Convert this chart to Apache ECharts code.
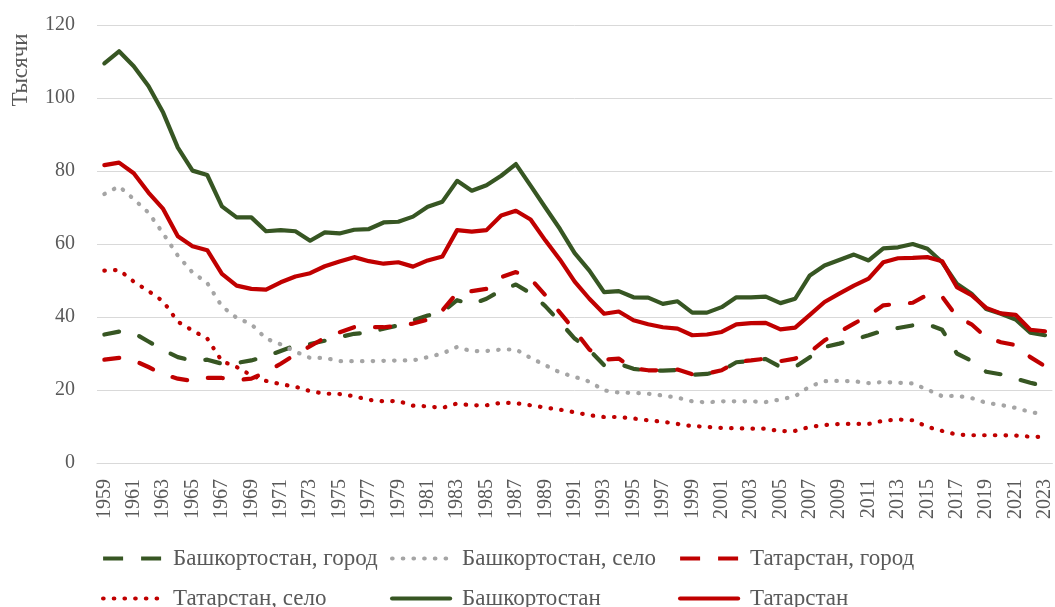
<!DOCTYPE html>
<html>
<head>
<meta charset="utf-8">
<script src="https://cdn.jsdelivr.net/npm/echarts@6/dist/echarts.min.js"></script>
<style>
html,body{margin:0;padding:0;background:#fff;}
#chart{width:1055px;height:607px;}
</style>
</head>
<body>
<div id="chart"></div>
<script>
var years = [];
for (var y = 1959; y <= 2023; y++) years.push(String(y));

var bashCity = [35.2,36.0,35.6,33.3,30.9,29.0,28.0,28.3,27.2,27.4,28.1,29.2,30.7,32.2,32.6,33.5,34.5,35.4,35.7,36.8,37.7,39.1,40.4,41.4,44.6,43.5,45.0,47.3,48.9,46.5,43.0,38.6,34.1,31.0,26.8,27.2,25.8,25.3,25.3,25.5,24.2,24.4,25.3,27.6,28.0,28.5,26.3,26.3,29.0,31.8,32.7,33.8,35.0,36.3,37.0,37.7,38.0,36.5,30.0,28.0,25.0,24.3,23.1,22.0,21.0];
var bashVillage = [73.7,75.8,72.3,68.6,62.9,56.8,52.2,49.3,42.9,39.8,38.0,34.1,32.5,30.5,28.8,28.8,27.9,27.9,27.9,28.0,28.1,28.1,29.0,30.0,31.8,30.6,30.7,31.1,31.1,28.8,26.8,24.8,23.6,22.3,19.9,19.3,19.2,19.0,18.5,17.9,16.9,16.6,16.9,16.9,16.9,16.7,17.4,18.3,21.0,22.4,22.5,22.4,21.9,22.2,22.0,21.8,20.1,18.3,18.4,17.8,16.5,15.9,15.1,14.0,13.2];
var tatCity = [28.3,28.8,28.1,26.3,24.3,23.1,22.5,23.3,23.3,22.7,23.1,24.9,27.2,29.7,32.0,34.3,35.8,37.2,37.2,37.2,37.6,38.2,39.3,41.8,46.6,47.1,47.7,50.9,52.3,50.5,46.0,41.2,36.3,31.1,28.3,28.6,25.9,25.4,25.4,25.6,24.3,24.5,25.4,27.7,28.1,28.6,27.9,28.6,30.4,33.6,35.9,38.2,40.4,43.2,43.6,43.9,46.1,45.6,40.1,38.0,34.4,33.1,32.3,29.0,26.5];
var tatVillage = [52.7,52.9,49.7,47.1,44.3,38.7,36.3,34.1,27.9,26.3,24.0,22.5,21.6,20.9,19.7,19.0,18.9,18.3,17.3,16.9,17.0,15.7,15.5,15.1,16.3,15.8,15.8,16.5,16.4,15.8,15.2,14.6,13.9,13.1,12.6,12.6,12.2,11.7,11.3,10.7,10.1,9.9,9.6,9.5,9.4,9.4,8.7,8.8,9.9,10.4,10.7,10.7,10.7,11.6,11.9,11.7,9.9,8.8,7.8,7.6,7.6,7.6,7.5,7.2,7.1];
var bashTotal = [109.5,112.8,108.7,103.3,96.0,86.4,80.1,78.9,70.3,67.3,67.3,63.5,63.8,63.5,60.9,63.2,62.9,63.9,64.1,65.9,66.1,67.5,70.2,71.6,77.3,74.6,76.1,78.7,81.9,76.0,70.0,64.1,57.5,52.7,46.8,47.1,45.4,45.3,43.6,44.3,41.2,41.2,42.7,45.4,45.4,45.6,43.8,45.0,51.4,54.1,55.6,57.1,55.5,58.8,59.1,60.0,58.7,55.0,49.1,46.4,42.2,40.9,39.3,35.7,35.0];
var tatTotal = [81.6,82.3,79.4,74.1,69.6,62.1,59.4,58.3,51.8,48.6,47.7,47.5,49.5,51.1,52.0,53.9,55.2,56.4,55.3,54.6,55.0,53.8,55.5,56.6,63.8,63.4,63.8,67.8,69.1,66.7,61.0,55.7,49.7,45.0,40.9,41.5,39.1,38.0,37.2,36.8,35.0,35.2,35.9,38.0,38.3,38.4,36.6,37.1,40.6,44.1,46.4,48.6,50.5,55.0,56.1,56.2,56.4,55.3,48.2,46.0,42.5,41.0,40.6,36.5,36.1];

var yTicks = [0, 20, 40, 60, 80, 100, 120];

var names = ['Башкортостан, город', 'Башкортостан, село', 'Татарстан, город', 'Татарстан, село', 'Башкортостан', 'Татарстан'];

var GREEN = '#375623', RED = '#C00000', GREY = '#A5A5A5';
var FONT = 'Liberation Serif';
var dashLong = [15, 21];
var dots = [0.5, 10.2];

function mk(name, data, color, type, cap) {
  return {
    name: name, type: 'line', data: data, symbol: 'none', showSymbol: false,
    animation: false, smooth: false,
    lineStyle: { color: color, width: 4.2, type: type, cap: cap || 'butt', join: 'round' },
    itemStyle: { color: color }
  };
}

var series = [
  mk(names[0], bashCity, GREEN, dashLong, 'round'),
  mk(names[1], bashVillage, GREY, dots, 'round'),
  mk(names[2], tatCity, RED, dashLong, 'round'),
  mk(names[3], tatVillage, RED, dots, 'round'),
  mk(names[4], bashTotal, GREEN, 'solid', 'round'),
  mk(names[5], tatTotal, RED, 'solid', 'round')
];

function legendItem(left, top, name, dashed) {
  var ls = { width: 4.2 };
  if (dashed) { ls.type = [20, 18]; ls.cap = 'butt'; }
  return {
    orient: 'horizontal', left: left, top: top,
    itemWidth: 58, itemHeight: 20, itemGap: 0, padding: 0,
    selectedMode: false,
    itemStyle: { opacity: 0 },
    lineStyle: ls,
    textStyle: { fontFamily: FONT, fontSize: 23, color: '#595959', lineHeight: 20, padding: [0, 0, 0, 7] },
    data: [name]
  };
}

var chart = echarts.init(document.getElementById('chart'), null, { renderer: 'canvas' });
chart.setOption({
  animation: false,
  backgroundColor: '#ffffff',
  grid: { left: 97, right: 2, top: 25, bottom: 144, containLabel: false },
  xAxis: {
    type: 'category', data: years, boundaryGap: true,
    axisLine: { show: true, lineStyle: { color: '#d9d9d9', width: 1 } },
    axisTick: { show: false },
    axisLabel: { interval: 1, rotate: 90, margin: 16, fontFamily: FONT, fontSize: 20, color: '#595959' }
  },
  yAxis: {
    type: 'value', min: 0, max: 120, interval: 20,
    axisLine: { show: false }, axisTick: { show: false },
    splitLine: { lineStyle: { color: '#d9d9d9', width: 1 } },
    axisLabel: { margin: 22, fontFamily: FONT, fontSize: 20, color: '#595959',
      formatter: function (v) { return yTicks.indexOf(v) >= 0 ? String(v) : ''; } }
  },
  graphic: [{
    type: 'text', x: 21, y: 70, rotation: Math.PI / 2,
    style: { text: 'Тысячи', font: '23px "Liberation Serif"', fill: '#595959', align: 'center', verticalAlign: 'middle', textAlign: 'center', textVerticalAlign: 'middle' }
  }],
  legend: [
    legendItem(101, 547, names[0], true),
    legendItem(101, 587, names[3], false),
    legendItem(390, 547, names[1], false),
    legendItem(390, 587, names[4], false),
    legendItem(678, 547, names[2], true),
    legendItem(678, 587, names[5], false)
  ],
  series: series
});
</script>
</body>
</html>
